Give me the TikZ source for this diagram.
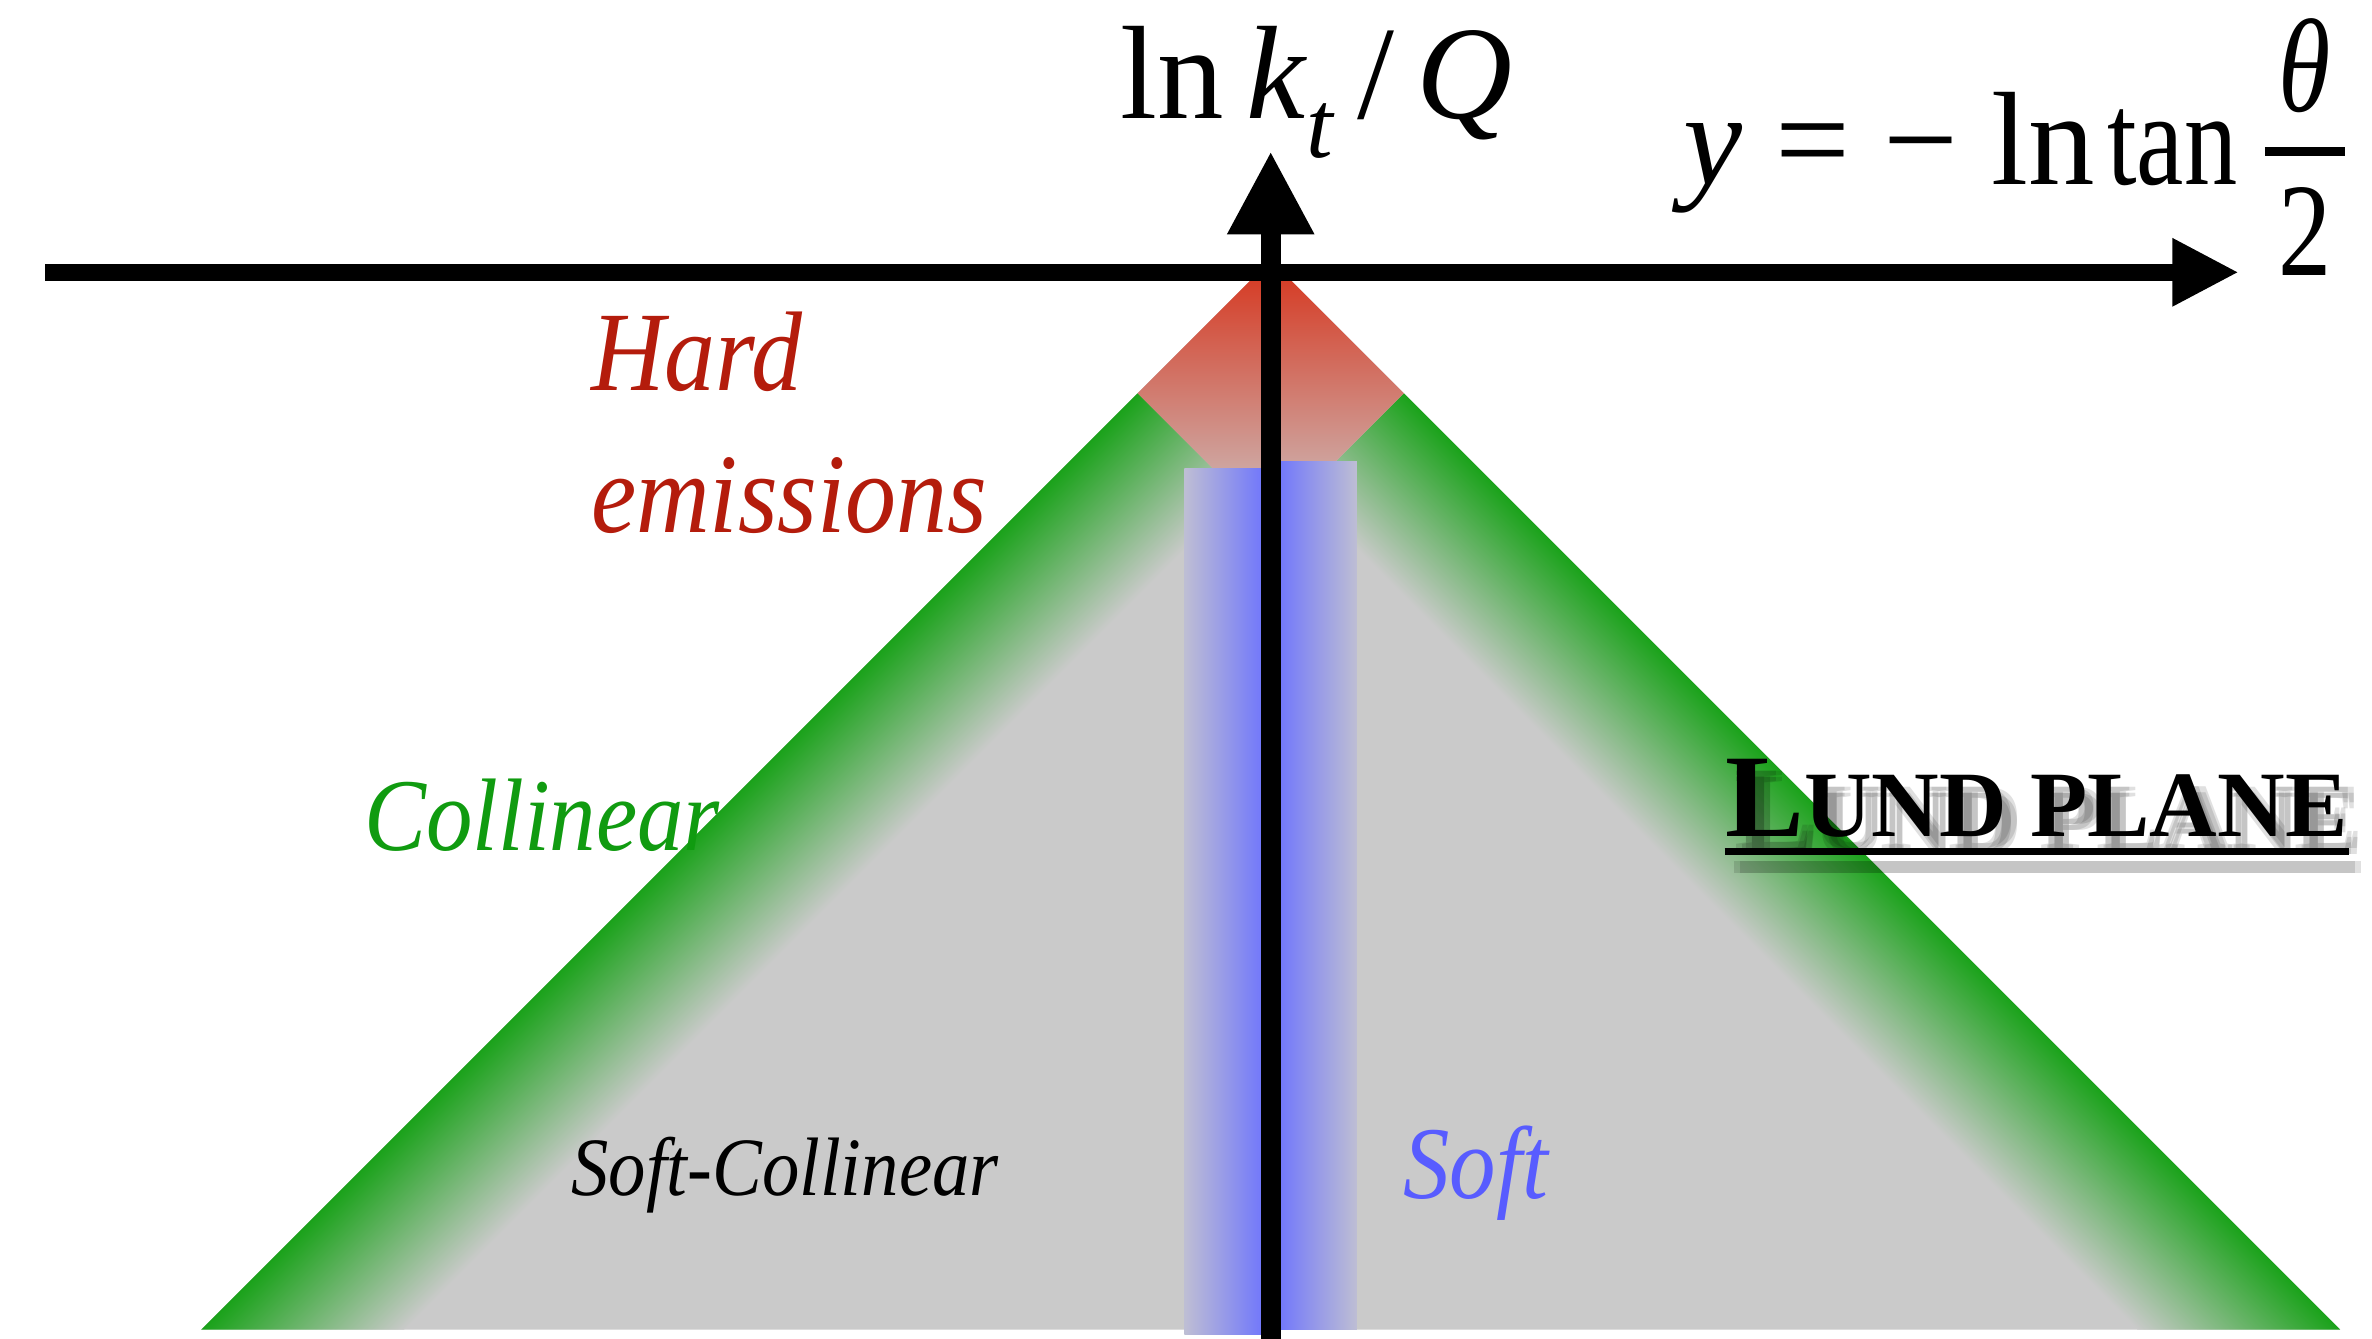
\documentclass[tikz,border=0pt]{standalone}
\usepackage{fontspec}
\setmainfont{Liberation Serif}
\newfontfamily\lblfont[FakeStretch=0.9]{Liberation Serif}
\newfontfamily\tanfont[FakeStretch=0.8]{Liberation Serif}
\usetikzlibrary{arrows.meta}
\definecolor{bandgreen}{RGB}{17,160,17}
\definecolor{planegray}{RGB}{202,202,202}
\definecolor{hardtop}{RGB}{214,52,28}
\definecolor{hardbot}{RGB}{204,196,196}
\definecolor{softblue}{RGB}{105,112,255}
\definecolor{softedge}{RGB}{190,190,212}
\definecolor{hardtext}{RGB}{180,28,12}
\definecolor{colltext}{RGB}{16,155,16}
\definecolor{softtext}{RGB}{88,92,255}
\newcommand\lundtext{{\fontsize{22.2}{26}\selectfont L}{\fontsize{17.6}{20}\selectfont UND PLANE}}
\begin{document}
\begin{tikzpicture}[x=0.1mm,y=0.1mm,
  lbl/.style={inner sep=0pt, anchor=base west},
  mathlbl/.style={lbl, font=\fontsize{25}{30}\selectfont},
  bigit/.style={lbl, font=\lblfont\itshape\fontsize{21.3}{25}\selectfont},
  midit/.style={lbl, font=\lblfont\itshape\fontsize{19.4}{23}\selectfont},
  smallit/.style={lbl, font=\lblfont\itshape\fontsize{15.6}{19}\selectfont},
  shadowtxt/.style={lbl, opacity=0.12, font=\bfseries},
  axisline/.style={black}]
\useasboundingbox (0,0) rectangle (1568,-885);
% gray plane
\fill[planegray] (133,-879) -- (840,-172) -- (1547,-879) -- cycle;
% left collinear band
\begin{scope}
  \clip (752,-260) -- (819,-327) -- (267,-879) -- (133,-879) -- cycle;
  \begin{scope}[transform canvas={shift={(752,-260)}, rotate=-45}]
    \shade[left color=bandgreen, right color=planegray] (-5,-950) rectangle (95,30);
  \end{scope}
\end{scope}
% right collinear band
\begin{scope}
  \clip (928,-260) -- (1547,-879) -- (1413,-879) -- (861,-327) -- cycle;
  \begin{scope}[transform canvas={shift={(928,-260)}, rotate=-135}]
    \shade[left color=bandgreen, right color=planegray] (-5,-30) rectangle (95,950);
  \end{scope}
\end{scope}
% hard region
\shade[top color=hardtop, bottom color=hardbot] (840,-172) -- (928,-260) -- (840,-348) -- (752,-260) -- cycle;
% soft strip
\shade[left color=softedge, right color=softblue] (783,-310) rectangle (840,-882);
\shade[left color=softblue, right color=softedge] (840,-305) rectangle (897,-879);
% axes
\coordinate (xs) at (30,-180);
\coordinate (xe) at (1480,-180);
\coordinate (ys) at (840,-885);
\coordinate (ye) at (840,-100);
\draw[axisline, line width=1.1mm, -{Triangle[length=4.4mm,width=4.2mm]}] (xs) -- (xe);
\draw[axisline, line width=1.3mm, -{Triangle[length=5.5mm,width=5.4mm]}] (ys) -- (ye);
% axis labels
\node[mathlbl] (kt) at (740,-78) {ln\,\textit{k}\raisebox{-0.3em}{\fontsize{18}{20}\selectfont\textit{t}}\,/\,\textit{Q}};
\node[mathlbl] (rap) at (1112,-122) {\textit{y} = − ln\hspace{0.09em}{\tanfont tan}\hspace{0.16em}$\displaystyle{\mbox{\tanfont\itshape\hspace{0.1em}\raisebox{-0.12em}{θ}\hspace{0.1em}}\above 1.7pt\mbox{\tanfont\hspace{0.1em}2\hspace{0.1em}}}$};
% region labels
\node[bigit, text=hardtext] (hard) at (390,-258) {Hard};
\node[bigit, text=hardtext] (emis) at (390,-352) {emissions};
\node[midit, text=colltext] (coll) at (240,-562) {Collinear};
\node[smallit, text=black] (softcoll) at (377,-790) {Soft-Collinear};
\node[midit, text=softtext] (soft) at (927,-792) {Soft};
% Lund plane title with soft shadow
\foreach \dx/\dy in {6/8, 10/8, 6/12, 10/12}{
  \node[shadowtxt] at (1140+\dx,-553-\dy) {\lundtext};
  \fill[opacity=0.12] (1140+\dx,-561-\dy) rectangle (1551+\dx,-565-\dy);
}
\node[lbl, font=\bfseries] (lund) at (1140,-553) {\lundtext};
\draw[line width=0.45mm] ([yshift=-1mm]lund.base west) -- ([yshift=-1mm]lund.base east);
\end{tikzpicture}
\end{document}
